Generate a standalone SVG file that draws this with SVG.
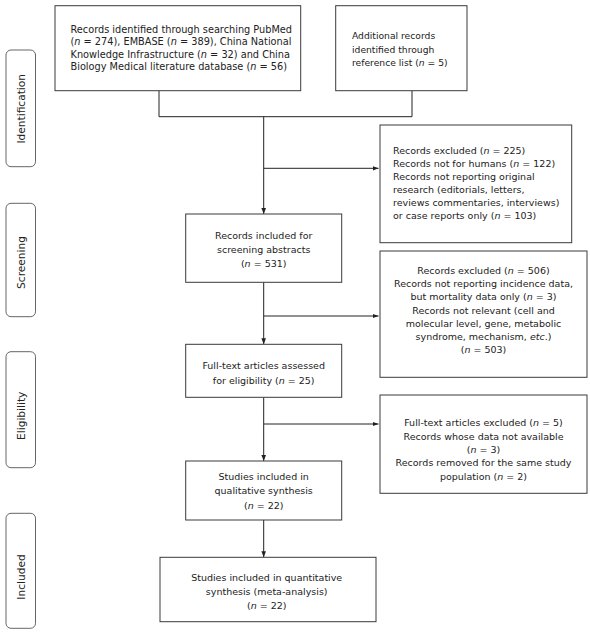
<svg xmlns="http://www.w3.org/2000/svg" width="590" height="633" viewBox="0 0 590 633">
<defs>
<marker id="ah" markerWidth="6" markerHeight="6" viewBox="0 0 6 6" refX="6" refY="3" orient="auto" markerUnits="userSpaceOnUse">
<path d="M0,0.7 L6,3 L0,5.3 Z" fill="#222"/>
</marker>
<style>
.box{fill:#fff;stroke:#3a3a3a;stroke-width:1}
.lab{fill:#fff;stroke:#555;stroke-width:0.9}
.t{font-family:"DejaVu Sans",Verdana,sans-serif;font-size:9.5px;fill:#222}
.big{font-size:9.75px}
.sm{font-size:9.2px}
.lt{font-family:"DejaVu Sans",Verdana,sans-serif;font-size:10.6px;fill:#222;text-anchor:middle}
.c{text-anchor:middle}
.i{font-style:italic}
.ln{fill:none;stroke:#222;stroke-width:1}
</style>
</defs>
<rect width="590" height="633" fill="#fff"/>

<g id="stage-identification">
<rect class="lab" x="6" y="50" width="29.5" height="116.7" rx="5"/>
<text class="lt" transform="translate(25,108.8) rotate(-90)">Identification</text>
</g>
<g id="stage-screening">
<rect class="lab" x="6" y="203.3" width="29.5" height="113.4" rx="5"/>
<text class="lt" transform="translate(25,262.5) rotate(-90)">Screening</text>
</g>
<g id="stage-eligibility">
<rect class="lab" x="6" y="351.7" width="29.5" height="116" rx="5"/>
<text class="lt" transform="translate(25,415.8) rotate(-90)">Eligibility</text>
</g>
<g id="stage-included">
<rect class="lab" x="6" y="513.3" width="29.5" height="115" rx="5"/>
<text class="lt" transform="translate(25,577) rotate(-90)">Included</text>
</g>

<g id="connectors">
<polyline class="ln" points="159,90.7 159,116.7 412,116.7 412,90.7"/>
<line class="ln" x1="263.7" y1="116.7" x2="263.7" y2="214" marker-end="url(#ah)"/>
<line class="ln" x1="263.7" y1="168.3" x2="378.5" y2="168.3" marker-end="url(#ah)"/>
<line class="ln" x1="263.7" y1="282.3" x2="263.7" y2="344.3" marker-end="url(#ah)"/>
<line class="ln" x1="263.7" y1="316" x2="378.5" y2="316" marker-end="url(#ah)"/>
<line class="ln" x1="263.7" y1="397.3" x2="263.7" y2="461" marker-end="url(#ah)"/>
<line class="ln" x1="263.7" y1="424" x2="378.5" y2="424" marker-end="url(#ah)"/>
<line class="ln" x1="263.7" y1="520" x2="263.7" y2="557.3" marker-end="url(#ah)"/>
</g>

<g id="records-identified">
<rect class="box" x="55" y="5.7" width="245.7" height="85"/>
<text class="t big" x="70.5" y="32.8">Records identified through searching PubMed</text>
<text class="t big" x="70.5" y="45.2">(<tspan class="i">n</tspan> = 274), EMBASE (<tspan class="i">n</tspan> = 389), China National</text>
<text class="t big" x="70.5" y="57.6">Knowledge Infrastructure (<tspan class="i">n</tspan> = 32) and China</text>
<text class="t big" x="70.5" y="70">Biology Medical literature database (<tspan class="i">n</tspan> = 56)</text>
</g>

<g id="additional-records">
<rect class="box" x="335.7" y="5.7" width="131.3" height="85"/>
<text class="t sm" x="352" y="39.2">Additional records</text>
<text class="t sm" x="352" y="52.6">identified through</text>
<text class="t sm" x="352" y="66.4">reference list (<tspan class="i">n</tspan> = 5)</text>
</g>

<g id="excluded-225">
<rect class="box" x="380" y="125" width="191.7" height="117.7"/>
<text class="t" x="393" y="154.2">Records excluded (<tspan class="i">n</tspan> = 225)</text>
<text class="t" x="393" y="166.9">Records not for humans (<tspan class="i">n</tspan> = 122)</text>
<text class="t" x="393" y="180.1">Records not reporting original</text>
<text class="t" x="393" y="192.9">research (editorials, letters,</text>
<text class="t" x="393" y="205.9">reviews commentaries, interviews)</text>
<text class="t" x="393" y="218.6">or case reports only (<tspan class="i">n</tspan> = 103)</text>
</g>

<g id="screening-abstracts">
<rect class="box" x="185.7" y="214" width="156" height="68.3"/>
<text class="t c" x="263.7" y="238.6">Records included for</text>
<text class="t c" x="263.7" y="252.6">screening abstracts</text>
<text class="t c" x="263.7" y="266.9">(<tspan class="i">n</tspan> = 531)</text>
</g>

<g id="excluded-506">
<rect class="box" x="380" y="251" width="207" height="126.3"/>
<text class="t c" x="483.5" y="273.6">Records excluded (<tspan class="i">n</tspan> = 506)</text>
<text class="t c" x="483.5" y="286.9">Records not reporting incidence data,</text>
<text class="t c" x="483.5" y="300.3">but mortality data only (<tspan class="i">n</tspan> = 3)</text>
<text class="t c" x="483.5" y="313.6">Records not relevant (cell and</text>
<text class="t c" x="483.5" y="326.9">molecular level, gene, metabolic</text>
<text class="t c" x="483.5" y="339.6">syndrome, mechanism, <tspan class="i">etc</tspan>.)</text>
<text class="t c" x="483.5" y="352.9">(<tspan class="i">n</tspan> = 503)</text>
</g>

<g id="full-text-assessed">
<rect class="box" x="185.7" y="344.3" width="156" height="53"/>
<text class="t c" x="263.7" y="369.3">Full-text articles assessed</text>
<text class="t c" x="263.7" y="383.6">for eligibility (<tspan class="i">n</tspan> = 25)</text>
</g>

<g id="full-text-excluded">
<rect class="box" x="380" y="395" width="207" height="98.3"/>
<text class="t c" x="483.5" y="426.3">Full-text articles excluded (<tspan class="i">n</tspan> = 5)</text>
<text class="t c" x="483.5" y="439.6">Records whose data not available</text>
<text class="t c" x="483.5" y="452.9">(<tspan class="i">n</tspan> = 3)</text>
<text class="t c" x="483.5" y="466.3">Records removed for the same study</text>
<text class="t c" x="483.5" y="479.6">population (<tspan class="i">n</tspan> = 2)</text>
</g>

<g id="qualitative-synthesis">
<rect class="box" x="185.7" y="461" width="156" height="59"/>
<text class="t c" x="263.7" y="479.6">Studies included in</text>
<text class="t c" x="263.7" y="494.3">qualitative synthesis</text>
<text class="t c" x="263.7" y="508.6">(<tspan class="i">n</tspan> = 22)</text>
</g>

<g id="quantitative-synthesis">
<rect class="box" x="160" y="557.3" width="216" height="64.4"/>
<text class="t c" x="266.7" y="580.9">Studies included in quantitative</text>
<text class="t c" x="266.7" y="594.6">synthesis (meta-analysis)</text>
<text class="t c" x="266.7" y="608.6">(<tspan class="i">n</tspan> = 22)</text>
</g>
</svg>
